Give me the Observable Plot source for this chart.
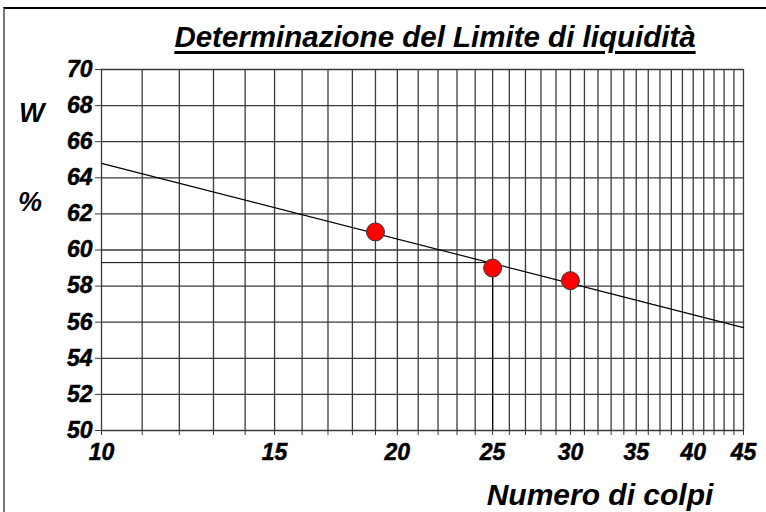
<!DOCTYPE html>
<html><head><meta charset="utf-8">
<script src="https://cdn.jsdelivr.net/npm/d3@7"></script>
<script src="https://cdn.jsdelivr.net/npm/@observablehq/plot@0.6"></script>
<style>
body{margin:0;background:#fff;}
#wrap{position:relative;width:766px;height:512px;overflow:hidden;font-family:"Liberation Sans",Arial,sans-serif;font-weight:bold;font-style:italic;color:#000;}
#border{position:absolute;left:3px;top:7px;width:800px;height:600px;border-top:2px solid #000;border-left:2px solid #777;box-sizing:border-box;}
.lbl{position:absolute;white-space:nowrap;line-height:1;}
#title{left:0;width:870px;text-align:center;top:22px;font-size:29.5px;text-decoration:underline;text-decoration-thickness:3px;text-underline-offset:4px;}
#xlab{left:0;width:1200px;text-align:center;top:480px;font-size:30px;}
#wlab{left:19px;top:100px;font-size:27px;}
#plab{left:18px;top:189px;font-size:27px;}
#chart{position:absolute;left:0;top:0;}
#chart svg text{font-weight:bold;font-style:italic;fill:#000;stroke:#000;stroke-width:0.5px;}
</style></head><body>
<div id="wrap"><div id="border"></div><div id="chart"></div>
<div class="lbl" id="title">Determinazione del Limite di liquidità</div>
<div class="lbl" id="xlab">Numero di colpi</div>
<div class="lbl" id="wlab">W</div>
<div class="lbl" id="plab">%</div>
</div>
<script>
const xGrid = d3.range(10, 46);
const xLabels = [10, 15, 20, 25, 30, 35, 40, 45];
const yTicks = [50, 52, 54, 56, 58, 60, 62, 64, 66, 68, 70];
const blows = [19, 25, 30];
const water = [61.0, 59.0, 58.3];
const fitBlows = [10, 45];
const fitWater = [64.8, 55.7];
const liquidLimit = 59.3;
const refBlows = 25;

const pts = blows.map((b, i) => ({x: b, y: water[i]}));
const fit = fitBlows.map((b, i) => ({x: b, y: fitWater[i]}));

const font = {fontFamily: "Liberation Sans, Arial, sans-serif", fontWeight: "bold", fontStyle: "italic", fontSize: 23};

const chart = Plot.plot({
  width: 766, height: 512,
  marginLeft: 101, marginRight: 23, marginTop: 69, marginBottom: 82,
  style: {background: "transparent", fontFamily: font.fontFamily, fontWeight: "bold", fontStyle: "italic", fontSize: "23px", color: "#000"},
  x: {type: "log", domain: [10, 45], label: null},
  y: {domain: [50, 70], label: null},
  marks: [
    Plot.ruleX(xGrid, {x: d => d, y1: 50, y2: 70, stroke: "#3a3a3a", strokeWidth: 1.3}),
    Plot.ruleY(yTicks, {y: d => d, x1: 10, x2: 45, stroke: "#3a3a3a", strokeWidth: 1.3}),
    Plot.axisX({ticks: xGrid, tickSize: 5, tickPadding: 8, stroke: "#3a3a3a", fill: "#000", tickFormat: d => xLabels.includes(d) ? String(d) : "", label: null, ...font}),
    Plot.axisY({ticks: yTicks, tickSize: 6, tickPadding: 3, stroke: "#3a3a3a", tickFormat: () => "", label: null}),
    Plot.text(yTicks, {x: 10, y: d => d, text: d => String(d), textAnchor: "end", dx: -9, fill: "#000", ...font}),
    Plot.ruleY([liquidLimit], {x1: 10, x2: refBlows, stroke: "#000", strokeWidth: 1}),
    Plot.ruleX([refBlows], {y1: 50, y2: liquidLimit, stroke: "#000", strokeWidth: 1.2}),
    Plot.line(fit, {x: "x", y: "y", stroke: "#000", strokeWidth: 1.2}),
    Plot.dot(pts, {x: "x", y: "y", r: 9, fill: "#ff0000", stroke: "#333", strokeWidth: 1})
  ]
});
document.getElementById("chart").appendChild(chart);
</script>
</body></html>
